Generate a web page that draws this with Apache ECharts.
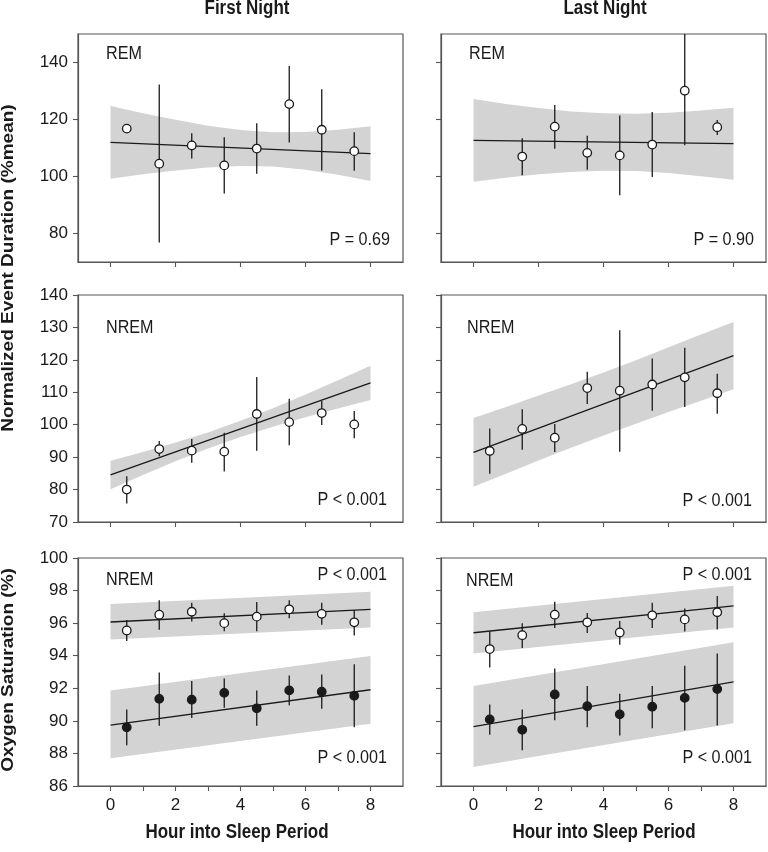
<!DOCTYPE html>
<html><head><meta charset="utf-8">
<script src="https://cdn.jsdelivr.net/npm/echarts@6/dist/echarts.min.js"></script>
<style>html,body{margin:0;padding:0;background:#fff}#c{width:768px;height:852px}</style>
</head><body><div id="c"></div>
<script>
// ---------- data ----------
const hours = [0.5, 1.5, 2.5, 3.5, 4.5, 5.5, 6.5, 7.5];
const fitX = [0, 8];
const bandX = [0, 1, 2, 3, 4, 5, 6, 7, 8];
const xTickLabels = [0, 2, 4, 6, 8];
const xTicksAll = [0, 1, 2, 3, 4, 5, 6, 7, 8];
const yTicksDur = [80, 100, 120, 140];
const yTicksNrem = [70, 80, 90, 100, 110, 120, 130, 140];
const yTicksSat = [86, 88, 90, 92, 94, 96, 98, 100];

// First night, REM event duration
const fnRemMean = [116.8, 104.5, 110.9, 103.9, 109.8, 125.4, 116.4, 108.9];
const fnRemLo   = [null, 76.8, 106.3, 94.0, 101.0, 111.9, 102.1, 102.0];
const fnRemHi   = [null, 132.3, 115.2, 113.8, 118.7, 138.8, 130.6, 115.5];
const fnRemFit  = [112.0, 108.0];
const fnRemBandLo = [99.2, 100.8, 102.1, 103.2, 103.7, 103.5, 102.4, 100.6, 98.4];
const fnRemBandHi = [124.7, 122.2, 119.9, 117.8, 116.3, 115.5, 115.6, 116.4, 117.6];

// Last night, REM event duration
const lnRemMean = [null, 107.0, 117.5, 108.3, 107.4, 111.2, 130.1, 117.3];
const lnRemLo   = [null, 100.4, 109.7, 102.4, 93.4, 99.8, 111.0, 114.6];
const lnRemHi   = [null, 113.4, 125.1, 114.3, 121.4, 122.6, 150.0, 119.8];
const lnRemFit  = [112.7, 111.5];
const lnRemBandLo = [98.2, 99.6, 100.8, 101.6, 102.0, 101.9, 101.2, 100.1, 98.9];
const lnRemBandHi = [127.2, 125.4, 124.0, 122.8, 122.2, 122.0, 122.4, 123.2, 124.1];

// First night, NREM event duration
const fnNremMean = [80.0, 92.5, 92.0, 91.7, 103.3, 100.8, 103.6, 100.1];
const fnNremLo   = [75.7, 90.3, 88.3, 85.6, 92.0, 93.7, 99.9, 95.8];
const fnNremHi   = [84.1, 95.0, 95.6, 97.5, 114.7, 108.0, 107.3, 104.2];
const fnNremFit  = [84.5, 112.9];
const fnNremBandLo = [80.1, 84.5, 88.7, 92.7, 96.2, 99.4, 102.3, 105.0, 107.6];
const fnNremBandHi = [88.9, 91.6, 94.5, 97.6, 101.2, 105.1, 109.3, 113.7, 118.2];

// Last night, NREM event duration
const lnNremMean = [91.9, 98.7, 96.0, 111.3, 110.5, 112.4, 114.6, 109.7];
const lnNremLo   = [84.9, 92.3, 91.6, 106.4, 91.7, 104.3, 105.5, 103.4];
const lnNremHi   = [98.8, 104.8, 100.2, 116.3, 129.1, 120.4, 123.7, 115.7];
const lnNremFit  = [91.5, 121.3];
const lnNremBandLo = [80.9, 84.9, 89.0, 92.9, 96.7, 100.3, 103.9, 107.4, 110.9];
const lnNremBandHi = [102.1, 105.5, 109.0, 112.5, 116.1, 119.9, 123.9, 127.8, 131.7];

// First night, oxygen saturation (open = upper group, filled = lower group)
const fnSatOpenMean = [95.55, 96.52, 96.70, 96.00, 96.40, 96.85, 96.57, 96.05];
const fnSatOpenLo   = [94.90, 95.60, 96.10, 95.50, 95.50, 96.30, 95.90, 95.24];
const fnSatOpenHi   = [96.20, 97.40, 97.25, 96.60, 97.30, 97.40, 97.25, 96.80];
const fnSatOpenFit  = [96.07, 96.85];
const fnSatOpenBandLo = [95.00, 95.74];
const fnSatOpenBandHi = [97.17, 97.93];
const fnSatFillMean = [89.60, 91.35, 91.30, 91.72, 90.77, 91.87, 91.79, 91.54];
const fnSatFillLo   = [88.50, 89.70, 90.17, 90.80, 89.70, 90.96, 90.75, 89.60];
const fnSatFillHi   = [90.70, 92.97, 92.45, 92.60, 91.87, 92.78, 92.84, 93.48];
const fnSatFillFit  = [89.74, 91.91];
const fnSatFillBandLo = [87.71, 89.82];
const fnSatFillBandHi = [91.87, 93.98];

// Last night, oxygen saturation
const lnSatOpenMean = [94.41, 95.26, 96.52, 96.05, 95.43, 96.48, 96.23, 96.67];
const lnSatOpenLo   = [93.28, 94.48, 95.70, 95.40, 94.68, 95.70, 95.49, 95.61];
const lnSatOpenHi   = [95.50, 96.00, 97.31, 96.63, 96.13, 97.25, 96.90, 97.66];
const lnSatOpenFit  = [95.41, 97.06];
const lnSatOpenBandLo = [94.14, 95.74];
const lnSatOpenBandHi = [96.67, 98.30];
const lnSatFillMean = [90.09, 89.45, 91.62, 90.90, 90.40, 90.87, 91.41, 91.95];
const lnSatFillLo   = [89.14, 88.20, 90.03, 89.61, 89.10, 89.55, 89.43, 89.72];
const lnSatFillHi   = [91.00, 90.69, 93.21, 92.14, 91.66, 92.14, 93.38, 94.14];
const lnSatFillFit  = [89.65, 92.39];
const lnSatFillBandLo = [87.17, 89.86];
const lnSatFillBandHi = [92.14, 94.83];

// ---------- layout / style ----------
const SANS = "'Liberation Sans',Arial,sans-serif";
const INK = '#1a1a1a';
const FRAME = '#555';
const BAND = '#d3d3d3';
const SQUEEZE = 0.85;

const cols = [{left: 78, width: 325}, {left: 441, width: 325}];
const rows = [{top: 34, height: 228}, {top: 295, height: 227}, {top: 558, height: 228}];
const yCfg = [
  {min: 70, max: 150, interval: 10, ticks: yTicksDur},
  {min: 70, max: 140, interval: 10, ticks: yTicksNrem},
  {min: 86, max: 100, interval: 2, ticks: yTicksSat}
];

const panels = [
  {r: 0, c: 0, groups: [{mean: fnRemMean, lo: fnRemLo, hi: fnRemHi, fit: fnRemFit, bx: bandX, blo: fnRemBandLo, bhi: fnRemBandHi, filled: false}]},
  {r: 0, c: 1, groups: [{mean: lnRemMean, lo: lnRemLo, hi: lnRemHi, fit: lnRemFit, bx: bandX, blo: lnRemBandLo, bhi: lnRemBandHi, filled: false}]},
  {r: 1, c: 0, groups: [{mean: fnNremMean, lo: fnNremLo, hi: fnNremHi, fit: fnNremFit, bx: bandX, blo: fnNremBandLo, bhi: fnNremBandHi, filled: false}]},
  {r: 1, c: 1, groups: [{mean: lnNremMean, lo: lnNremLo, hi: lnNremHi, fit: lnNremFit, bx: bandX, blo: lnNremBandLo, bhi: lnNremBandHi, filled: false}]},
  {r: 2, c: 0, groups: [
    {mean: fnSatOpenMean, lo: fnSatOpenLo, hi: fnSatOpenHi, fit: fnSatOpenFit, bx: fitX, blo: fnSatOpenBandLo, bhi: fnSatOpenBandHi, filled: false},
    {mean: fnSatFillMean, lo: fnSatFillLo, hi: fnSatFillHi, fit: fnSatFillFit, bx: fitX, blo: fnSatFillBandLo, bhi: fnSatFillBandHi, filled: true}]},
  {r: 2, c: 1, groups: [
    {mean: lnSatOpenMean, lo: lnSatOpenLo, hi: lnSatOpenHi, fit: lnSatOpenFit, bx: fitX, blo: lnSatOpenBandLo, bhi: lnSatOpenBandHi, filled: false},
    {mean: lnSatFillMean, lo: lnSatFillLo, hi: lnSatFillHi, fit: lnSatFillFit, bx: fitX, blo: lnSatFillBandLo, bhi: lnSatFillBandHi, filled: true}]}
];

const grid = [], xAxis = [], yAxis = [], series = [];
panels.forEach((p, gi) => {
  const col = cols[p.c], row = rows[p.r], yc = yCfg[p.r];
  const bottomRow = p.r === 2;
  grid.push({left: col.left, top: row.top, width: col.width, height: row.height,
    show: true, borderColor: FRAME, borderWidth: 1.2, backgroundColor: 'transparent'});
  xAxis.push({gridIndex: gi, type: 'value', min: -1, max: 9, interval: 1,
    splitLine: {show: false},
    axisLine: {show: true, onZero: false, lineStyle: {color: FRAME, width: 1.2}},
    axisTick: {show: true, length: 5, lineStyle: {color: FRAME, width: 1.1},
      customValues: bottomRow ? xTicksAll : xTickLabels},
    axisLabel: {show: bottomRow, customValues: xTickLabels, margin: 11,
      fontSize: 17, fontFamily: SANS, color: INK}
  });
  yAxis.push({gridIndex: gi, type: 'value', min: yc.min, max: yc.max, interval: yc.interval,
    splitLine: {show: false},
    axisLine: {show: true, onZero: false, lineStyle: {color: FRAME, width: 1.2}},
    axisTick: {show: true, length: 5, lineStyle: {color: FRAME, width: 1.1}, customValues: yc.ticks},
    axisLabel: {show: p.c === 0, customValues: yc.ticks, margin: 10,
      fontSize: 17, fontFamily: SANS, color: INK}
  });
  p.groups.forEach(g => {
    // confidence band
    series.push({type: 'custom', xAxisIndex: gi, yAxisIndex: gi, silent: true, z: 1,
      data: g.bx.map((x, i) => [x, g.blo[i], g.bhi[i]]),
      encode: {x: 0, y: [1, 2]},
      renderItem: (params, api) => {
        if (params.dataIndex !== 0) return null;
        const top = g.bx.map((x, i) => api.coord([x, g.bhi[i]]));
        const bot = g.bx.map((x, i) => api.coord([x, g.blo[i]])).reverse();
        return {type: 'polygon', shape: {points: top.concat(bot)}, style: {fill: BAND}};
      }
    });
    // regression line
    series.push({type: 'line', xAxisIndex: gi, yAxisIndex: gi, silent: true, z: 2,
      symbol: 'none', data: fitX.map((x, i) => [x, g.fit[i]]),
      lineStyle: {color: INK, width: 1.3}});
    // error bars
    series.push({type: 'custom', xAxisIndex: gi, yAxisIndex: gi, silent: true, z: 3,
      data: hours.map((x, i) => [x, g.lo[i], g.hi[i]]).filter(d => d[1] != null),
      encode: {x: 0, y: [1, 2]},
      renderItem: (params, api) => {
        const a = api.coord([api.value(0), api.value(1)]);
        const b = api.coord([api.value(0), api.value(2)]);
        return {type: 'line', shape: {x1: a[0], y1: a[1], x2: b[0], y2: b[1]},
          style: {stroke: INK, lineWidth: 1.3}};
      }
    });
    // means
    series.push({type: 'scatter', xAxisIndex: gi, yAxisIndex: gi, silent: true, z: 4,
      symbol: 'circle', symbolSize: 8.5,
      data: hours.map((x, i) => [x, g.mean[i]]).filter(d => d[1] != null),
      itemStyle: {color: g.filled ? INK : '#fff', borderColor: INK, borderWidth: 1.3, opacity: 1}});
  });
});

function txt(text, x, y, size, align, opts) {
  opts = opts || {};
  const rot = opts.rot || 0;
  return {type: 'text', x: x, y: y, rotation: rot, silent: true, z: 10,
    scaleX: rot ? 1 : SQUEEZE, scaleY: rot ? SQUEEZE : 1,
    style: {text: text, fill: INK,
      font: (opts.bold ? 'bold ' : '') + size + 'px ' + SANS,
      align: align, textAlign: align, verticalAlign: 'middle', textVerticalAlign: 'middle'}};
}

const graphic = [
  txt('First Night', 247, 8.5, 20, 'center', {bold: true}),
  txt('Last Night', 605, 8.5, 20, 'center', {bold: true}),
  txt('Normalized Event Duration (%mean)', 9, 268, 19, 'center', {bold: true, rot: Math.PI / 2}),
  txt('Oxygen Saturation (%)', 9, 670, 19, 'center', {bold: true, rot: Math.PI / 2}),
  txt('Hour into Sleep Period', 237, 832.5, 20, 'center', {bold: true}),
  txt('Hour into Sleep Period', 604, 832.5, 20, 'center', {bold: true}),
  txt('REM', 106, 53.7, 19, 'left'),
  txt('REM', 469, 53.7, 19, 'left'),
  txt('P = 0.69', 390, 240, 19, 'right'),
  txt('P = 0.90', 754, 240, 19, 'right'),
  txt('NREM', 106, 327.5, 19, 'left'),
  txt('NREM', 467, 327.5, 19, 'left'),
  txt('P < 0.001', 387, 500, 19, 'right'),
  txt('P < 0.001', 752, 501, 19, 'right'),
  txt('NREM', 106, 580, 19, 'left'),
  txt('NREM', 466, 581, 19, 'left'),
  txt('P < 0.001', 387, 575, 19, 'right'),
  txt('P < 0.001', 752, 575, 19, 'right'),
  txt('P < 0.001', 387, 758, 19, 'right'),
  txt('P < 0.001', 752, 758, 19, 'right')
];

const chart = echarts.init(document.getElementById('c'), null, {renderer: 'canvas'});
chart.setOption({animation: false, backgroundColor: '#fff', grid, xAxis, yAxis, series, graphic});
</script></body></html>
